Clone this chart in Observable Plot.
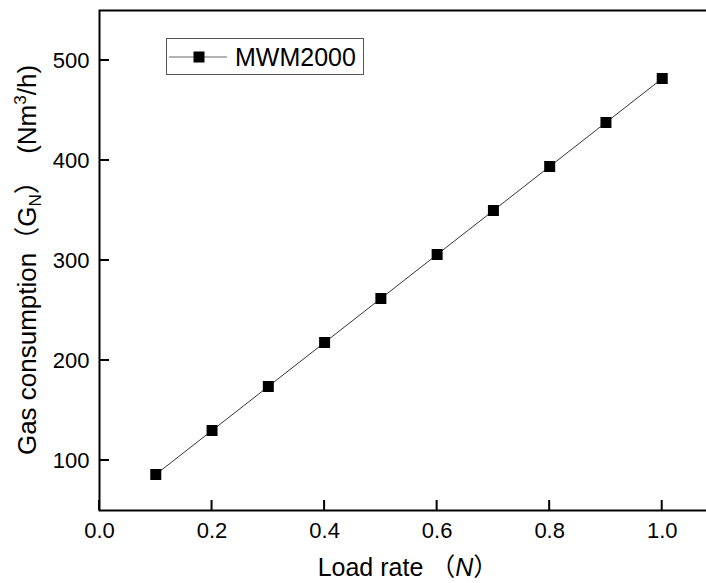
<!DOCTYPE html>
<html>
<head>
<meta charset="utf-8">
<script src="https://cdn.jsdelivr.net/npm/d3@7"></script>
<script src="https://cdn.jsdelivr.net/npm/@observablehq/plot@0.6"></script>
<style>
  html, body { margin: 0; padding: 0; background: #fff; overflow: hidden; }
  #chart svg { display: block; max-width: none !important; }
</style>
</head>
<body>
<div id="chart"></div>
<script>
// Gas consumption of the MWM2000 engine against load rate
const seriesName = "MWM2000";
const loadRate = [0.1, 0.2, 0.3, 0.4, 0.5, 0.6, 0.7, 0.8, 0.9, 1.0];
const gasConsumption = [86, 130, 174, 218, 262, 306, 350, 394, 438, 482];
const xTicks = [0.0, 0.2, 0.4, 0.6, 0.8, 1.0];
const yTicks = [100, 200, 300, 400, 500];

const rows = loadRate.map((x, i) => ({x, y: gasConsumption[i]}));

const fontStack = "'Liberation Sans', Arial, 'Noto Sans CJK SC', sans-serif";

const W = 720, H = 583;
const mL = 99, mR = 2, mT = 10, mB = 73;
const tickLen = 10;

const svg = Plot.plot({
  width: W,
  height: H,
  marginLeft: mL,
  marginRight: mR,
  marginTop: mT,
  marginBottom: mB,
  x: {domain: [0, 1.1]},
  y: {domain: [50, 550]},
  style: {fontFamily: fontStack, fontSize: "22px", color: "black", background: "white"},
  marks: [
    Plot.frame({stroke: "black", strokeWidth: 2}),
    // tick labels
    Plot.axisX(xTicks, {tickSize: 0, tickPadding: 12, tickFormat: d => d.toFixed(1), label: null}),
    Plot.axisY(yTicks, {tickSize: 0, tickPadding: 10, tickFormat: d => String(d), label: null}),
    Plot.line(rows, {x: "x", y: "y", stroke: "#333", strokeWidth: 1}),
    Plot.dot(rows, {x: "x", y: "y", symbol: "square", r: 6.2, fill: "black", stroke: "none"})
  ]
});

document.getElementById("chart").appendChild(svg);

const root = d3.select(svg);
const sx = svg.scale("x");
const sy = svg.scale("y");
const bottom = H - mB;

// inward tick marks along the bottom and left edges, placed with the plot's scales
const ticks = root.append("g").attr("stroke", "black").attr("stroke-width", 2);
ticks.selectAll(".xt").data(xTicks).join("line")
  .attr("x1", d => sx.apply(d)).attr("x2", d => sx.apply(d))
  .attr("y1", bottom).attr("y2", bottom - tickLen);
ticks.selectAll(".yt").data(yTicks).join("line")
  .attr("x1", mL).attr("x2", mL + tickLen)
  .attr("y1", d => sy.apply(d)).attr("y2", d => sy.apply(d));

const titles = root.append("g")
  .attr("font-family", fontStack)
  .attr("fill", "black");

// x-axis title
const xt = titles.append("text")
  .attr("x", 408)
  .attr("y", 576)
  .attr("font-size", 25)
  .attr("text-anchor", "middle");
xt.append("tspan").text("Load rate （");
xt.append("tspan").attr("font-style", "italic").text("N");
xt.append("tspan").text("）");

// y-axis title
const yt = titles.append("text")
  .attr("transform", "translate(36,260) rotate(-90)")
  .attr("font-size", 26)
  .attr("text-anchor", "middle");
yt.append("tspan").text("Gas consumption（G");
yt.append("tspan").attr("font-size", 17).attr("dy", 5).text("N");
yt.append("tspan").attr("dy", -5).text("）  (Nm");
yt.append("tspan").attr("font-size", 17).attr("dy", -10).text("3");
yt.append("tspan").attr("dy", 10).text("/h)");

// legend
const lg = root.append("g");
lg.append("rect")
  .attr("x", 166.5).attr("y", 38.5)
  .attr("width", 197).attr("height", 36)
  .attr("fill", "white").attr("stroke", "#555").attr("stroke-width", 1);
lg.append("line")
  .attr("x1", 169).attr("x2", 227).attr("y1", 57).attr("y2", 57)
  .attr("stroke", "#666").attr("stroke-width", 1);
lg.append("rect")
  .attr("x", 193.5).attr("y", 51.5).attr("width", 11).attr("height", 11)
  .attr("fill", "black");
lg.append("text")
  .attr("x", 235).attr("y", 66)
  .attr("text-anchor", "start")
  .attr("font-family", fontStack).attr("font-size", 25)
  .attr("fill", "black")
  .text(seriesName);
</script>
</body>
</html>
